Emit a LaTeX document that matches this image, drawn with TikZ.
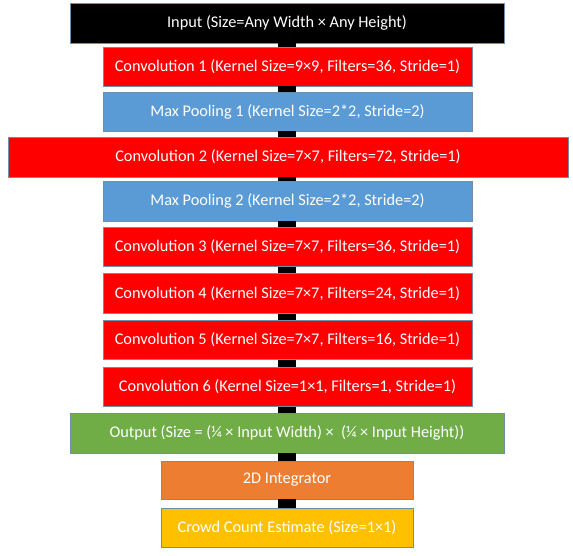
\documentclass[tikz,border=0pt]{standalone}
\usepackage{fontspec}
\setmainfont{Carlito}
\definecolor{cred}{HTML}{FF0000}
\definecolor{cblue}{HTML}{5B9BD5}
\definecolor{cgreen}{HTML}{70AD47}
\definecolor{corange}{HTML}{ED7D31}
\definecolor{cyellow}{HTML}{FFC000}
\definecolor{cborder}{HTML}{6F8FAF}
\tikzset{
  layer/.style={draw=cborder, line width=0.9pt, rectangle, text=white, inner sep=0pt,
    font=\fontsize{16.3}{19}\selectfont, anchor=center},
  link/.style={line width=18pt, black}
}
\begin{document}
\begin{tikzpicture}[x=1pt,y=-1pt]
\useasboundingbox (0,0) rectangle (573,556);
\node[layer, fill=black, minimum width=434pt, minimum height=40pt] (in) at (287,23) {Input (Size=Any Width × Any Height)};
\node[layer, fill=cred, minimum width=369pt, minimum height=39pt] (c1) at (287.5,66.5) {Convolution 1 (Kernel Size=9×9, Filters=36, Stride=1)};
\node[layer, fill=cblue, minimum width=369pt, minimum height=39pt] (p1) at (287.5,111.5) {Max Pooling 1 (Kernel Size=2*2, Stride=2)};
\node[layer, fill=cred, minimum width=560pt, minimum height=40pt] (c2) at (288,157) {Convolution 2 (Kernel Size=7×7, Filters=72, Stride=1)};
\node[layer, fill=cblue, minimum width=369pt, minimum height=40pt] (p2) at (287.5,201) {Max Pooling 2 (Kernel Size=2*2, Stride=2)};
\node[layer, fill=cred, minimum width=369pt, minimum height=39.5pt] (c3) at (287.5,247) {Convolution 3 (Kernel Size=7×7, Filters=36, Stride=1)};
\node[layer, fill=cred, minimum width=369pt, minimum height=39.5pt] (c4) at (287.5,293.3) {Convolution 4 (Kernel Size=7×7, Filters=24, Stride=1)};
\node[layer, fill=cred, minimum width=369pt, minimum height=39.5pt] (c5) at (287.5,340) {Convolution 5 (Kernel Size=7×7, Filters=16, Stride=1)};
\node[layer, fill=cred, minimum width=369pt, minimum height=39.5pt] (c6) at (287.5,386.8) {Convolution 6 (Kernel Size=1×1, Filters=1, Stride=1)};
\node[layer, fill=cgreen, minimum width=434pt, minimum height=40pt] (out) at (287,433) {Output (Size = (¼ × Input Width) × \ (¼ × Input Height))};
\node[layer, fill=corange, minimum width=252pt, minimum height=38pt] (int) at (287,480) {2D Integrator};
\node[layer, fill=cyellow, minimum width=252pt, minimum height=39pt] (est) at (287,527.5) {Crowd Count Estimate (Size=1×1)};
\foreach \a/\b in {in/c1,c1/p1,p1/c2,c2/p2,p2/c3,c3/c4,c4/c5,c5/c6,c6/out,out/int,int/est}
  \draw[link] (\a.south -| in.center) -- (\b.north -| in.center);
\end{tikzpicture}
\end{document}
